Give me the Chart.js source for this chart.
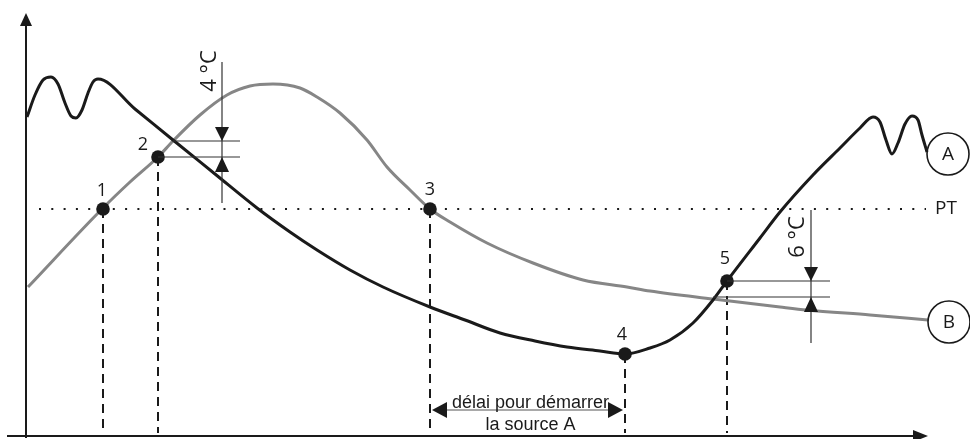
<!DOCTYPE html>
<html><head><meta charset="utf-8">
<script src="https://cdn.jsdelivr.net/npm/chart.js@4/dist/chart.umd.min.js"></script>
<style>html,body{margin:0;padding:0;background:#fff}canvas{display:block}</style>
</head><body>
<canvas id="c" width="970" height="439"></canvas>
<script>
// ---- Data (t = time, T = temperature, arbitrary units) ----
const curveA_t = [0.1,0.9,1.7,2.5,3.2,3.9,4.5,5.0,5.6,6.2,6.7,7.2,10.9,14.7,18.9,23.1,26.4,29.1,32.4,35.7,40.4,43.9,47.4,50.9,54.1,57.4,59.9,62.4,64.4,66.7,68.7,70.1,73.4,75.4,78.7,81.4,83.4,84.7,85.4,86.0,86.6,87.2,87.9,88.6,89.2,89.6,90.1];
const curveA_T = [31.9,34.1,35.6,35.9,35.2,33.3,32.0,31.8,32.6,34.3,35.4,35.7,32.7,29.6,26.2,22.8,20.4,18.6,16.6,14.9,12.9,11.6,10.3,9.5,8.9,8.5,8.2,8.8,9.6,11.3,13.6,15.5,19.8,22.4,26.1,28.8,30.8,31.9,31.4,29.6,28.2,29.3,31.2,32.0,31.6,30.1,28.4];
const curveB_t = [0.2,7.7,10.4,13.2,14.7,17.4,20.1,22.4,24.7,27.4,29.1,31.4,34.1,36.1,38.4,40.4,42.4,46.1,50.7,55.7,60.1,62.4,68.7,75.4,78.1,84.4,90.2];
const curveB_T = [14.9,22.8,25.4,27.9,29.5,32.1,34.1,35.0,35.2,34.8,33.9,32.3,29.6,26.9,24.6,22.7,21.4,19.3,17.3,15.6,14.9,14.5,13.7,12.9,12.6,12.1,11.6];
const keyLabels = ['1','2','3','4','5'];
const key_t = [7.7,13.2,40.4,59.9,70.1];
const key_T = [22.7,27.9,22.7,8.2,15.5];
const PT = 22.7;
const PT_range = [1.3,90.0];
const crossAB = [14.7,29.5];      // intersection A/B near point 2
const crossAB5 = [68.7,13.9];     // intersection A/B near point 5
const delta4 = {t:19.6, top:37.4, bottom:23.3, end:21.4, text:'4 °C'};
const delta6 = {t:78.5, top:22.6, bottom:9.3, end:80.4, text:'6 °C'};
const circleA = [92.2,28.2], circleB = [92.3,11.4];
const delayText = ['délai pour démarrer','la source A'];
const xAxisRange = [-1.9,90.2], yAxisRange = [-0.2,42.3];

const BLACK = '#1a1a1a', GREY = '#868686';
const pts = (ts, Ts) => ts.map((t,i)=>({x:t,y:Ts[i]}));

const datasets = [];
datasets.push({data:pts(key_t,key_T), showLine:false, pointRadius:6.8, pointBackgroundColor:BLACK, pointBorderWidth:0, order:0});
datasets.push({data:pts(curveA_t,curveA_T), showLine:true, borderColor:BLACK, borderWidth:3, pointRadius:0, cubicInterpolationMode:'monotone', order:1});
datasets.push({data:pts(curveB_t,curveB_T), showLine:true, borderColor:GREY, borderWidth:3, pointRadius:0, cubicInterpolationMode:'monotone', order:2});
key_t.forEach((t,i)=>{
  datasets.push({data:[{x:t,y:key_T[i]},{x:t,y:0.3}], showLine:true, borderColor:BLACK, borderWidth:2, borderDash:[9,6], pointRadius:0, order:3});
});
datasets.push({data:[{x:PT_range[0],y:PT},{x:PT_range[1],y:PT}], showLine:true, borderColor:BLACK, borderWidth:2, borderDash:[2,10.3], pointRadius:0, order:4});

function tri(ctx, x, y, dir, len, hw){
  ctx.beginPath(); ctx.moveTo(x,y);
  if(dir==='up'){ctx.lineTo(x-hw,y+len);ctx.lineTo(x+hw,y+len);}
  if(dir==='down'){ctx.lineTo(x-hw,y-len);ctx.lineTo(x+hw,y-len);}
  if(dir==='left'){ctx.lineTo(x+len,y-hw);ctx.lineTo(x+len,y+hw);}
  if(dir==='right'){ctx.lineTo(x-len,y-hw);ctx.lineTo(x-len,y+hw);}
  ctx.closePath(); ctx.fill();
}
function seg(ctx,x1,y1,x2,y2){ctx.beginPath();ctx.moveTo(x1,y1);ctx.lineTo(x2,y2);ctx.stroke();}

const annot = {
  id:'annot',
  afterDatasetsDraw(chart){
    const {ctx, scales:{x,y}} = chart;
    const X=v=>x.getPixelForValue(v), Y=v=>y.getPixelForValue(v);
    ctx.save();
    ctx.fillStyle=BLACK; ctx.strokeStyle=BLACK;
    // axes
    ctx.lineWidth=2;
    const x0=X(0), y0=Y(0);
    seg(ctx, X(xAxisRange[0]), y0, X(xAxisRange[1])-10, y0);
    tri(ctx, X(xAxisRange[1]), y0, 'right', 15, 6);
    seg(ctx, x0, Y(yAxisRange[0]), x0, Y(yAxisRange[1])+10);
    tri(ctx, x0, Y(yAxisRange[1]), 'up', 13, 6);

    // delta annotations
    function delta(d, upperT, upperStart, lowerT, lowerStart){
      ctx.strokeStyle='#333'; ctx.lineWidth=1.2;
      const xv=X(d.t);
      seg(ctx, xv, Y(d.top), xv, Y(d.bottom));
      seg(ctx, X(upperStart), Y(upperT), X(d.end), Y(upperT));
      seg(ctx, X(lowerStart), Y(lowerT), X(d.end), Y(lowerT));
      ctx.fillStyle=BLACK;
      tri(ctx, xv, Y(upperT), 'down', 14, 7);
      tri(ctx, xv, Y(lowerT), 'up', 15, 7);
    }
    delta(delta4, crossAB[1], crossAB[0], key_T[1], key_t[1]);
    delta(delta6, key_T[4], key_t[4], crossAB5[1], crossAB5[0]);

    ctx.fillStyle=BLACK;
    ctx.textAlign='center'; ctx.textBaseline='middle';
    ctx.font='22px "Open Sans", "Noto Sans", sans-serif';
    [[delta4, X(delta4.t)-12, Y(delta4.top)+9],[delta6, X(delta6.t)-13, Y(delta6.top)+27]].forEach(([d,px,py])=>{
      ctx.save(); ctx.translate(px, py); ctx.rotate(-Math.PI/2); ctx.fillText(d.text,0,0); ctx.restore();
    });

    // key point labels
    ctx.font='18px "Open Sans", "Noto Sans", sans-serif';
    const offs=[[-1,-18],[-15,-12],[0,-19],[-3,-19],[-2,-22]];
    keyLabels.forEach((l,i)=>ctx.fillText(l, X(key_t[i])+offs[i][0], Y(key_T[i])+offs[i][1]));

    // PT label
    ctx.font='19px "Open Sans", "Noto Sans", sans-serif';
    ctx.fillText('PT', X(PT_range[1])+20, Y(PT));

    // circles A, B
    ctx.lineWidth=1.6; ctx.strokeStyle=BLACK;
    [[circleA,'A'],[circleB,'B']].forEach(([c,l])=>{
      ctx.beginPath(); ctx.arc(X(c[0]),Y(c[1]),21,0,Math.PI*2); ctx.stroke();
      ctx.fillText(l, X(c[0]), Y(c[1])+1);
    });

    // delay double arrow
    const xa=X(key_t[2]), xb=X(key_t[3]), ya=Y(2.6);
    ctx.strokeStyle='#555'; ctx.lineWidth=1.2;
    seg(ctx, xa+10, ya, xb-10, ya);
    ctx.fillStyle=BLACK;
    tri(ctx, xa+2, ya, 'left', 15, 8);
    tri(ctx, xb-2, ya, 'right', 15, 8);
    ctx.font='18px "Liberation Sans", Arial, sans-serif';
    ctx.textBaseline='alphabetic';
    ctx.fillText(delayText[0], (xa+xb)/2+3, ya-2);
    ctx.fillText(delayText[1], (xa+xb)/2+3, ya+20);
    ctx.restore();
  }
};

new Chart(document.getElementById('c'), {
  type:'scatter',
  data:{datasets},
  options:{
    responsive:false, animation:false, devicePixelRatio:1,
    layout:{padding:0, autoPadding:false},
    plugins:{legend:{display:false}, tooltip:{enabled:false}},
    scales:{
      x:{type:'linear', display:false, min:-2.6, max:94.4},
      y:{type:'linear', display:false, min:-0.3, max:43.6}
    }
  },
  plugins:[annot]
});
</script>
</body></html>
